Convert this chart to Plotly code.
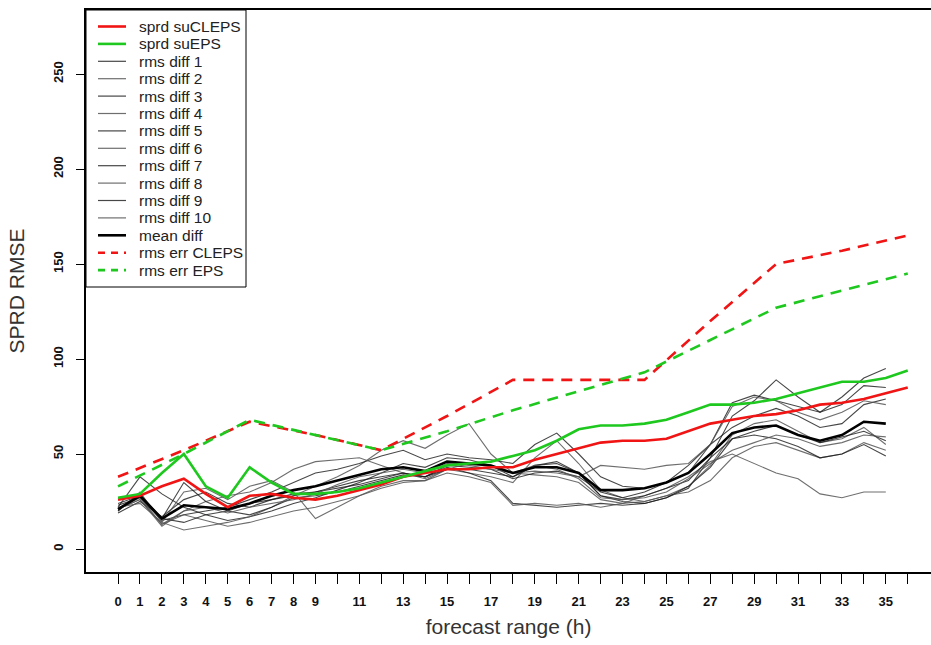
import plotly.graph_objects as go

# forecast lead times (hours)
hours = list(range(0, 37))          # spread curves, 0..36
diff_hours = list(range(0, 36))     # rms differences, 0..35
err_hours = list(range(0, 37, 3))   # rms errors every 3 h

sprd_sucleps = [26, 28, 33, 37, 29, 22, 28, 29, 27, 26, 28, 31, 34, 38, 40, 42, 42, 43, 43, 47,
                50, 53, 56, 57, 57, 58, 62, 66, 68, 70, 71, 73, 76, 77, 79, 82, 85]
sprd_sueps = [27, 29, 40, 50, 33, 27, 43, 35, 29, 29, 30, 32, 35, 38, 41, 44, 45, 46, 49, 52,
              57, 63, 65, 65, 66, 68, 72, 76, 76, 77, 79, 82, 85, 88, 88, 90, 94]

rms_diff = [
    [22, 38, 29, 22, 18, 15, 17, 20, 24, 27, 31, 35, 40, 45, 43, 48, 47, 44, 38, 44,
     46, 40, 28, 25, 24, 27, 32, 48, 70, 78, 89, 80, 72, 80, 90, 95],
    [20, 30, 14, 10, 12, 14, 17, 22, 28, 33, 38, 44, 52, 57, 53, 60, 66, 50, 40, 39,
     38, 35, 26, 24, 25, 28, 33, 44, 60, 66, 68, 62, 56, 58, 64, 55],
    [23, 27, 15, 18, 20, 22, 26, 30, 35, 40, 42, 45, 49, 52, 47, 50, 48, 47, 45, 55,
     61, 50, 38, 33, 32, 35, 40, 55, 77, 81, 78, 75, 72, 76, 86, 85],
    [21, 26, 13, 20, 25, 28, 30, 35, 42, 46, 47, 48, 44, 40, 37, 42, 40, 38, 35, 48,
     57, 45, 31, 27, 25, 28, 30, 36, 48, 54, 56, 52, 48, 50, 56, 52],
    [19, 25, 17, 26, 30, 24, 22, 26, 28, 30, 32, 34, 37, 40, 38, 44, 43, 42, 37, 40,
     41, 38, 30, 27, 30, 35, 44, 55, 64, 70, 74, 70, 64, 66, 76, 79],
    [22, 24, 14, 30, 32, 26, 33, 36, 30, 16, 22, 28, 33, 36, 36, 42, 45, 44, 40, 41,
     40, 38, 44, 43, 42, 44, 45, 55, 75, 80, 78, 72, 68, 72, 78, 76],
    [24, 28, 16, 35, 25, 20, 18, 22, 27, 28, 30, 33, 36, 39, 38, 43, 40, 36, 24, 23,
     22, 23, 24, 23, 24, 27, 33, 43, 58, 62, 65, 60, 56, 59, 62, 57],
    [21, 27, 13, 18, 15, 12, 14, 17, 20, 22, 25, 28, 32, 35, 36, 40, 38, 35, 23, 24,
     23, 24, 22, 24, 28, 32, 38, 46, 50, 45, 40, 37, 29, 27, 30, 30],
    [20, 29, 16, 14, 18, 20, 24, 26, 29, 30, 33, 36, 38, 40, 38, 42, 42, 40, 38, 44,
     45, 40, 28, 26, 28, 32, 36, 48, 58, 60, 58, 54, 48, 50, 55, 49],
    [21, 26, 12, 20, 22, 19, 22, 24, 26, 29, 34, 38, 40, 42, 40, 45, 44, 42, 40, 44,
     42, 37, 27, 26, 27, 30, 37, 45, 52, 56, 60, 58, 54, 56, 60, 59],
]
mean_diff = [21, 28, 16, 23, 22, 21, 24, 28, 31, 33, 36, 39, 42, 43, 41, 46, 45, 44, 40, 43,
             43, 40, 31, 31, 32, 35, 40, 50, 61, 64, 65, 60, 57, 60, 67, 66]

rms_err_cleps = [38, 52, 67, 60, 52, 70, 89, 89, 89, 120, 150, 157, 165]
rms_err_eps = [33, 50, 68, 60, 52, 62, 73, 83, 93, 110, 127, 136, 145]

x_tick_vals = list(range(0, 37))
x_tick_text = ["0", "1", "2", "3", "4", "5", "6", "7", "8", "9", "", "11", "", "13", "", "15",
               "", "17", "", "19", "", "21", "", "23", "", "25", "", "27", "", "29", "", "31",
               "", "33", "", "35", ""]
y_tick_vals = [0, 50, 100, 150, 200, 250]

RED = "#F01414"
GREEN = "#1EC81E"
thin_colors = ["rgba(85,85,85,0.85)", "rgba(25,25,25,0.8)"]
DASH = "11px,8px"

# figure geometry (pixels)
W, H = 931, 645
ML, MR, MT, MB = 86, 0, 10, 73
PW, PH = W - ML - MR, H - MT - MB

fig = go.Figure()

# (name, colour, width, dash) in key order
key = [("sprd suCLEPS", RED, 2.6, "solid"), ("sprd suEPS", GREEN, 2.6, "solid")]

# individual rms differences (thin grey/black)
for i, vals in enumerate(rms_diff):
    col = thin_colors[(i + 1) % 2]
    fig.add_trace(go.Scatter(x=diff_hours, y=vals, mode="lines", name=f"rms diff {i + 1}",
                             line=dict(color=col, width=1.1), showlegend=False))
    key.append((f"rms diff {i + 1}", col, 1.2, "solid"))

fig.add_trace(go.Scatter(x=diff_hours, y=mean_diff, mode="lines", name="mean diff",
                         line=dict(color="black", width=2.6), showlegend=False))
fig.add_trace(go.Scatter(x=hours, y=sprd_sucleps, mode="lines", name="sprd suCLEPS",
                         line=dict(color=RED, width=2.6), showlegend=False))
fig.add_trace(go.Scatter(x=hours, y=sprd_sueps, mode="lines", name="sprd suEPS",
                         line=dict(color=GREEN, width=2.6), showlegend=False))
fig.add_trace(go.Scatter(x=err_hours, y=rms_err_cleps, mode="lines", name="rms err CLEPS",
                         line=dict(color=RED, width=2.6, dash=DASH), showlegend=False))
fig.add_trace(go.Scatter(x=err_hours, y=rms_err_eps, mode="lines", name="rms err EPS",
                         line=dict(color=GREEN, width=2.6, dash=DASH), showlegend=False))
key += [("mean diff", "black", 2.6, "solid"),
        ("rms err CLEPS", RED, 2.6, "7px,6px"),
        ("rms err EPS", GREEN, 2.6, "7px,6px")]


def px(xp):
    return (xp - ML) / PW


def py(yp):
    return (H - MB - yp) / PH


# key box in the top-left corner of the plotting region
shapes = [dict(type="rect", xref="paper", yref="paper",
               x0=px(86), x1=px(246), y0=py(287), y1=py(10),
               line=dict(color="black", width=1), fillcolor="white", layer="above")]
annotations = []
row0, step = 26.5, 17.4
for k, (name, col, w, dash) in enumerate(key):
    yy = row0 + k * step
    shapes.append(dict(type="line", xref="paper", yref="paper",
                       x0=px(98), x1=px(126), y0=py(yy), y1=py(yy),
                       line=dict(color=col, width=w, dash=dash), layer="above"))
    annotations.append(dict(xref="paper", yref="paper", x=px(137), y=py(yy),
                            xanchor="left", yanchor="middle", showarrow=False,
                            text=name, font=dict(size=15.5, color="#222")))

fig.update_layout(
    width=W, height=H,
    margin=dict(l=ML, r=MR, t=MT, b=MB),
    plot_bgcolor="white", paper_bgcolor="white",
    font=dict(family="Liberation Sans, Arial, sans-serif", color="black"),
    showlegend=False,
    shapes=shapes, annotations=annotations,
    xaxis=dict(
        range=[-1.46, 37.06], tickmode="array", tickvals=x_tick_vals, ticktext=x_tick_text,
        ticks="outside", ticklen=10, tickwidth=1, tickcolor="black",
        showline=True, linecolor="black", linewidth=2, mirror=True,
        showgrid=False, zeroline=False, ticklabelstandoff=6,
        tickfont=dict(size=13, weight="bold", color="#111"),
        title=dict(text="forecast range (h)", font=dict(size=21, color="#333"), standoff=12),
    ),
    yaxis=dict(
        range=[-12.1, 283.7], tickmode="array", tickvals=y_tick_vals,
        ticks="outside", ticklen=8, tickwidth=1, tickcolor="black", tickangle=-90,
        showline=True, linecolor="black", linewidth=2, mirror=False,
        showgrid=False, zeroline=False, ticklabelstandoff=8,
        tickfont=dict(size=13, weight="bold", color="#111"),
        title=dict(text="SPRD RMSE", font=dict(size=21, color="#333"), standoff=20),
    ),
)

fig.write_html("out.html")
